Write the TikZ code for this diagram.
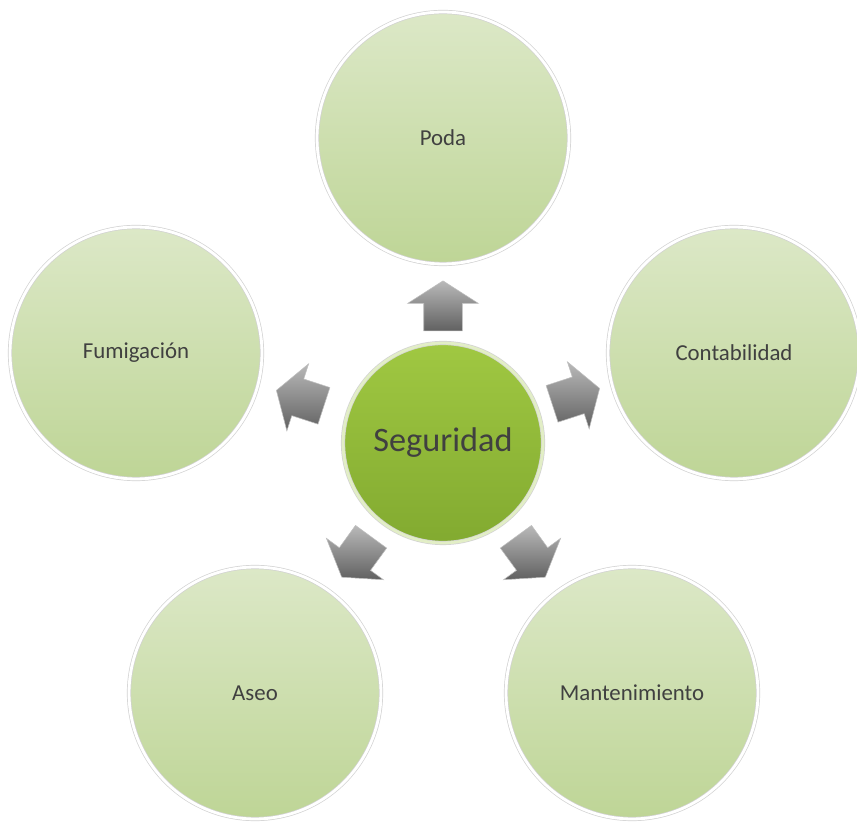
\documentclass[tikz,border=0pt]{standalone}
\usepackage{fontspec}
\setmainfont{Carlito}
\usetikzlibrary{shapes.arrows}
\definecolor{leaftop}{RGB}{220,232,199}
\definecolor{leafbot}{RGB}{190,213,150}
\definecolor{hubtop}{RGB}{160,200,66}
\definecolor{hubbot}{RGB}{130,170,48}
\definecolor{labelgrey}{RGB}{64,64,64}
\begin{document}
\begin{tikzpicture}[x=0.02cm,y=0.02cm,
   topic/.style={circle,inner sep=0pt,minimum size=5.04cm,top color=leaftop,bottom color=leafbot,
      draw=gray!35,double=white,double distance=1.6pt,text=labelgrey,font=\fontsize{13}{15}\selectfont},
   hub/.style={circle,inner sep=0pt,minimum size=4cm,top color=hubtop,bottom color=hubbot,
      draw=gray!35,double=white!70!hubtop,double distance=1.6pt,text=labelgrey,font=\fontsize{19.5}{22}\selectfont},
   house/.style={single arrow,inner xsep=0pt,inner ysep=0.38cm,minimum height=1cm,
      single arrow head extend=0.32cm,single arrow tip angle=115,
      top color=gray!55,bottom color=black!62,draw=gray!50,line width=0.3pt}]
   \useasboundingbox (0,0) rectangle (857,824);
   \node[hub] (seg) at (443,381) {Seguridad};
   \node[topic] (poda) at (443,686) {Poda};
   \node[topic] (cont) at (734,471) {Contabilidad};
   \node[topic] (mant) at (632,131) {Mantenimiento};
   \node[topic] (aseo) at (255,131) {Aseo};
   \node[topic] (fumi) at (136,471) {Fumigación};
   \node[house,rotate=90] (up) at (443,512) {};
   \node[house,rotate=18] (right) at (570,426) {};
   \node[house,rotate=-54] (downright) at (527,272) {};
   \node[house,rotate=-126] (downleft) at (360,272) {};
   \node[house,rotate=162] (left) at (306,424) {};
\end{tikzpicture}
\end{document}
